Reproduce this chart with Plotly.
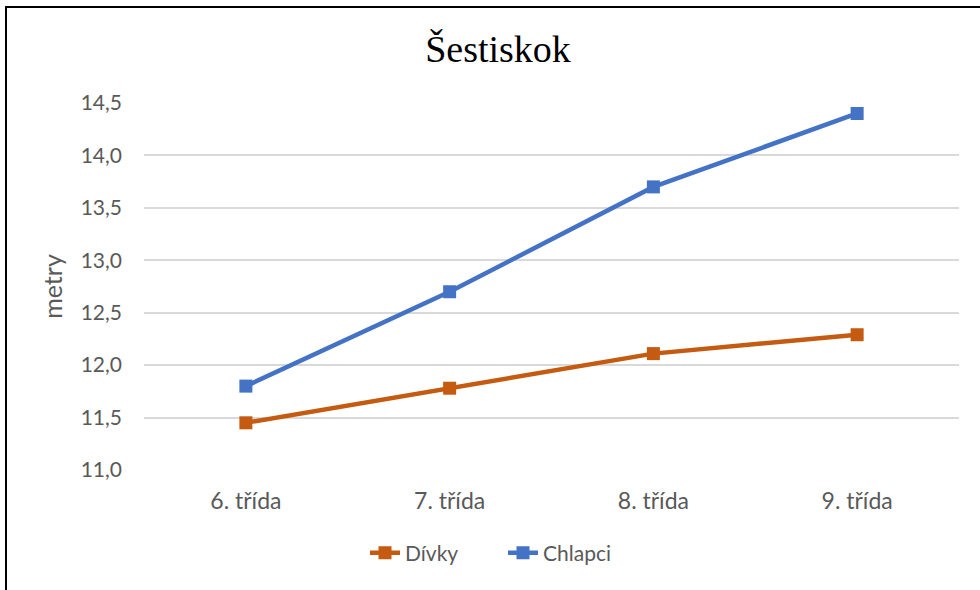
import plotly.graph_objects as go

categories = ["6. třída", "7. třída", "8. třída", "9. třída"]
divky = [11.45, 11.78, 12.11, 12.29]
chlapci = [11.8, 12.7, 13.7, 14.4]

W, H = 980, 590
L, R, T, B = 144, 21, 103, 120
pw, ph = W - L - R, H - T - B

def px_x(x):
    return (x - L) / pw

def px_y(y):
    return (H - B - y) / ph

fig = go.Figure()
fig.add_trace(go.Scatter(x=categories, y=divky, name="Dívky", mode="lines+markers",
                         line=dict(color="#C55A11", width=4.5),
                         marker=dict(symbol="square", size=13, color="#C55A11")))
fig.add_trace(go.Scatter(x=categories, y=chlapci, name="Chlapci", mode="lines+markers",
                         line=dict(color="#4472C4", width=4.5),
                         marker=dict(symbol="square", size=13, color="#4472C4")))

fig.update_layout(
    width=W, height=H,
    margin=dict(l=L, r=R, t=T, b=B),
    paper_bgcolor="white", plot_bgcolor="white",
    separators=", ",
    font=dict(family="Lato", size=20, color="#595959"),
    title=dict(text="Šestiskok", x=498 / W, xref="container", xanchor="center",
               y=1 - 49 / H, yref="container", yanchor="middle",
               font=dict(family="Liberation Serif", size=38, color="black")),
    xaxis=dict(type="category", showgrid=False, zeroline=False, showline=False,
               ticks="", ticklabelstandoff=15, range=[-0.5, 3.5],
               tickfont=dict(size=23, color="#595959")),
    yaxis=dict(range=[11.0, 14.5], dtick=0.5, tickformat=".1f", showgrid=True,
               gridcolor="#D9D9D9", gridwidth=2, zeroline=False, showline=False,
               ticks="", ticklabelstandoff=21, tickfont=dict(size=21, color="#595959"),
               title=dict(text="metry", standoff=10, font=dict(size=25, color="#595959"))),
    legend=dict(orientation="h", x=px_x(503), xanchor="center", y=px_y(553),
                yanchor="middle", font=dict(size=21, color="#595959"),
                itemwidth=30, entrywidth=93, entrywidthmode="pixels",
                bgcolor="rgba(0,0,0,0)"),
    showlegend=True,
    shapes=[dict(type="rect", xref="paper", yref="paper",
                 x0=px_x(6), x1=px_x(W + 20), y0=px_y(H + 20), y1=px_y(7),
                 line=dict(color="black", width=2), fillcolor="rgba(0,0,0,0)", layer="above")],
)

fig.write_html("out.html")
